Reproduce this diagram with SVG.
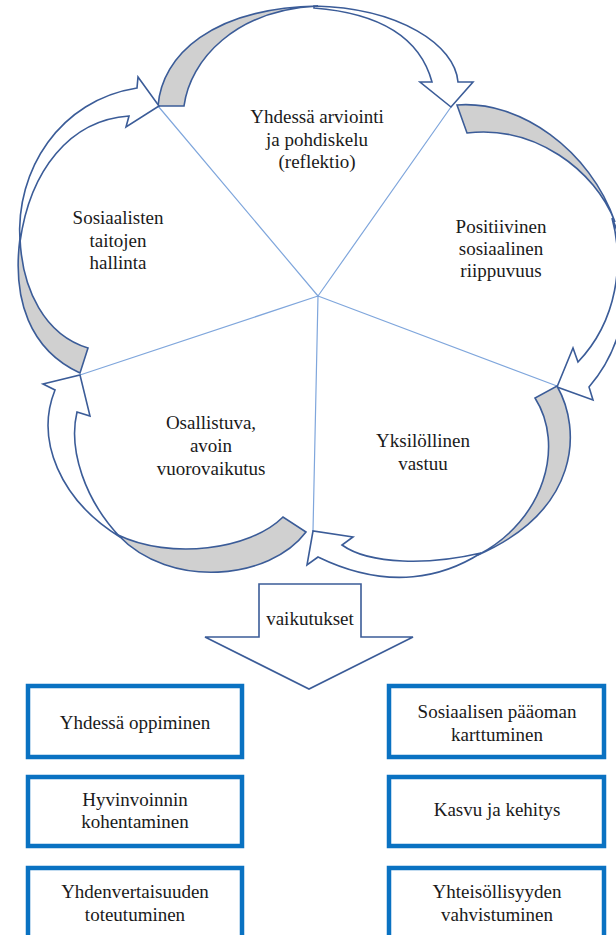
<svg xmlns="http://www.w3.org/2000/svg" width="616" height="935" viewBox="0 0 616 935">
<style>
text{font-family:'Liberation Serif','Times New Roman','DejaVu Serif',serif;font-size:19px;fill:#1a1a1a;text-anchor:middle}
.spoke{stroke:#7FA6DC;stroke-width:1.2;fill:none}
.g{fill:#D0D0D0;stroke:#3B5C98;stroke-width:1.6;stroke-linejoin:miter}
.w{fill:#FFFFFF;stroke:#3B5C98;stroke-width:1.6;stroke-linejoin:miter}
.box{fill:#FFFFFF;stroke:#0A72C2;stroke-width:4.5}
</style>
<rect width="616" height="935" fill="#FFFFFF"/>
<g id="spokes">
<path class="spoke" d="M318,296 L158,106 M318,296 L451,107 M318,296 L557,386 M318,296 L313,531 M318,296 L80,375"/>
</g>
<g id="connectors">
<path class="g" d="M158,106 C162,55 212,8 318,6 C235,10 190,60 184,106 Z"/>
<path class="w" d="M314,6 C400,8 455,45 458,82 L473,82 L451,107 L420,82 L432,82 C422,45 390,14 314,8 Z"/>
<path class="g" d="M457,105 C520,100 590,150 615,222 C595,170 535,125 467,133 Z"/>
<path class="w" d="M612,218 C632,262 634,335 589,387 L593,400 L557,387 L573,348 L578,362 C618,320 624,262 612,218 Z"/>
<path class="g" d="M557,386 C582,430 580,510 478,555 C545,520 565,445 535,398 Z"/>
<path class="w" d="M481,553 C445,576 390,592 318,557 L307,565 L313,531 L353,537 L342,545 C370,565 430,565 481,553 Z"/>
<path class="g" d="M306,532 C270,580 170,590 118,535 C170,560 250,550 283,517 Z"/>
<path class="w" d="M120,537 C60,500 35,440 55,390 L43,384 L80,375 L90,416 L77,412 C68,450 85,500 120,537 Z"/>
<path class="g" d="M80,373 C30,350 12,300 20,238 C22,290 45,335 88,348 Z"/>
<path class="w" d="M20,242 C15,170 60,100 137,88 L138,77 L159,106 L126,127 L129,116 C70,120 30,170 20,242 Z"/>
<path class="w" d="M259,584 L361,584 L361,637 L413,637 L309,689 L205,637 L259,637 Z"/>
</g>
<g id="n-reflektio"><text x="317" y="123">Yhdessä arviointi</text><text x="317" y="145.5">ja pohdiskelu</text><text x="317" y="168">(reflektio)</text></g>
<g id="n-riippuvuus"><text x="501" y="233">Positiivinen</text><text x="501" y="255">sosiaalinen</text><text x="501" y="277">riippuvuus</text></g>
<g id="n-vastuu"><text x="423" y="447">Yksilöllinen</text><text x="423" y="470">vastuu</text></g>
<g id="n-vuorovaikutus"><text x="211" y="429">Osallistuva,</text><text x="211" y="452">avoin</text><text x="211" y="475">vuorovaikutus</text></g>
<g id="n-taidot"><text x="118" y="224">Sosiaalisten</text><text x="118" y="246.5">taitojen</text><text x="118" y="269">hallinta</text></g>
<g id="n-vaikutukset"><text x="310" y="625">vaikutukset</text></g>
<g id="b1"><rect class="box" x="28" y="686" width="214" height="71"/><text x="135" y="729">Yhdessä oppiminen</text></g>
<g id="b2"><rect class="box" x="28" y="777" width="214" height="69"/><text x="135" y="806">Hyvinvoinnin</text><text x="135" y="828">kohentaminen</text></g>
<g id="b3"><rect class="box" x="28" y="868" width="214" height="80"/><text x="135" y="898">Yhdenvertaisuuden</text><text x="135" y="921">toteutuminen</text></g>
<g id="b4"><rect class="box" x="389" y="686" width="215" height="71"/><text x="497" y="718">Sosiaalisen pääoman</text><text x="497" y="741">karttuminen</text></g>
<g id="b5"><rect class="box" x="389" y="777" width="215" height="69"/><text x="497" y="816">Kasvu ja kehitys</text></g>
<g id="b6"><rect class="box" x="389" y="868" width="215" height="80"/><text x="497" y="898">Yhteisöllisyyden</text><text x="497" y="921">vahvistuminen</text></g>
</svg>
